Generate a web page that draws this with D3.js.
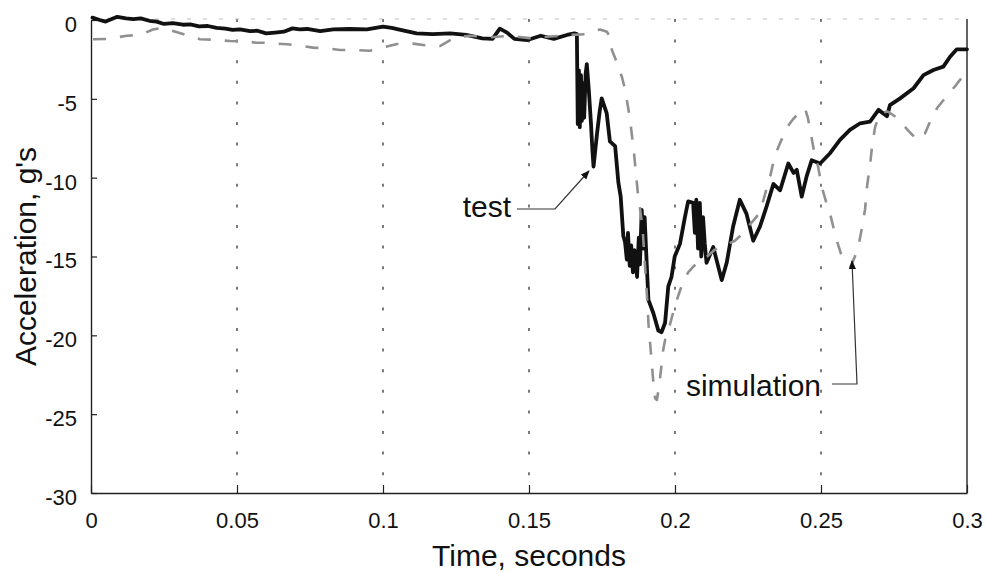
<!DOCTYPE html>
<html>
<head>
<meta charset="utf-8">
<script src="https://cdn.jsdelivr.net/npm/d3@7"></script>
<style>
  html, body { margin: 0; padding: 0; background: #fff; }
  svg { display: block; }
  text { font-family: "Liberation Sans", Arial, Helvetica, sans-serif; fill: #111; }
</style>
</head>
<body>
<svg id="chart" width="986" height="573"></svg>
<script>
// Axis ticks
const timeTicks = [0, 0.05, 0.1, 0.15, 0.2, 0.25, 0.3];
const timeLabels = ["0", "0.05", "0.1", "0.15", "0.2", "0.25", "0.3"];
const accelTicks = [0, -5, -10, -15, -20, -25, -30];
const accelLabels = ["0", "-5", "-10", "-15", "-20", "-25", "-30"];
const gridTimes = [0.05, 0.1, 0.15, 0.2, 0.25];

// Measured crash pulse (seconds, g's)
const testTime = [
  0.0005, 0.003, 0.005, 0.009, 0.012, 0.0145, 0.017, 0.020, 0.0225, 0.025,
  0.028, 0.0315, 0.034, 0.037, 0.040, 0.043, 0.046, 0.0485, 0.051, 0.0545,
  0.057, 0.060, 0.063, 0.066, 0.069, 0.0715, 0.074, 0.0785, 0.083, 0.0885,
  0.0945, 0.100, 0.103, 0.106, 0.1115, 0.117, 0.123, 0.1285, 0.134, 0.1375,
  0.140, 0.1425, 0.145, 0.1495, 0.154, 0.1585, 0.163, 0.1655,
  0.1664, 0.1667, 0.1671, 0.1674, 0.1678, 0.1681, 0.1685, 0.1689, 0.1694, 0.1698,
  0.1705, 0.1712, 0.1717, 0.1721, 0.1733, 0.1742, 0.1749, 0.1766, 0.1777, 0.1795,
  0.1806, 0.1814, 0.1823, 0.1829, 0.1835, 0.1839, 0.1845, 0.1850, 0.1856, 0.1861,
  0.1866, 0.1870, 0.1876, 0.1880, 0.1886, 0.1892, 0.1896, 0.1903, 0.1909, 0.1926,
  0.1943, 0.1954, 0.1966, 0.1977, 0.1988, 0.1999, 0.2017, 0.2034, 0.2045, 0.2062,
  0.2068, 0.2073, 0.2079, 0.2085, 0.2090, 0.2096, 0.2102, 0.2108, 0.2131, 0.2160,
  0.2177, 0.2199, 0.2222, 0.2245, 0.2268, 0.2291, 0.2314, 0.2337, 0.2360, 0.2388,
  0.2406, 0.2417, 0.2434, 0.2451, 0.2468, 0.2497, 0.2531, 0.2565, 0.2599, 0.2634,
  0.2668, 0.2697, 0.2726, 0.2736, 0.2771, 0.2817, 0.2851, 0.2885, 0.2919, 0.2942,
  0.2965, 0.3000
];
const testAccel = [
  0.15, 0.0, -0.1, 0.2, 0.1, 0.05, 0.1, -0.05, -0.1, -0.25,
  -0.2, -0.3, -0.28, -0.4, -0.38, -0.5, -0.55, -0.63, -0.6, -0.7,
  -0.68, -0.85, -0.8, -0.74, -0.53, -0.6, -0.57, -0.7, -0.6, -0.57,
  -0.6, -0.42, -0.5, -0.63, -0.85, -0.9, -0.85, -0.95, -1.16, -1.2,
  -0.55, -0.8, -1.2, -1.27, -1.0, -1.2, -0.95, -0.85,
  -0.9, -6.6, -3.2, -6.8, -3.5, -6.4, -4.0, -6.2, -3.4, -2.8,
  -4.5, -6.5, -8.2, -9.3, -7.2, -5.8, -4.97, -5.9, -7.7, -8.0,
  -10.3, -11.2, -13.7, -14.1, -15.2, -13.5, -15.6, -14.3, -16.0, -14.6,
  -15.0, -16.3, -13.8, -15.5, -12.05, -14.5, -12.5, -15.4, -17.75, -18.6,
  -19.7, -19.8, -19.2, -16.9, -16.3, -15.0, -14.2, -12.5, -11.5, -11.6,
  -13.5, -11.4, -14.5, -11.6, -15.0, -12.5, -14.2, -15.4, -14.4, -16.5,
  -15.4, -13.1, -11.4, -12.3, -14.0, -13.1, -11.8, -10.4, -10.8, -9.1,
  -9.7, -9.5, -11.2, -9.9, -8.9, -9.1, -8.45, -7.6, -6.97, -6.55,
  -6.45, -5.7, -6.1, -5.4, -4.97, -4.33, -3.5, -3.17, -2.96, -2.33,
  -1.86, -1.86
];

// Simulated pulse (seconds, g's)
const simTime = [
  0.0007, 0.0055, 0.0123, 0.0168, 0.0212, 0.0247, 0.0373, 0.0418, 0.0476, 0.0510,
  0.0568, 0.0603, 0.0671, 0.0705, 0.0760, 0.0808, 0.0853, 0.0904, 0.0955, 0.1000,
  0.1048, 0.1103, 0.1144, 0.1195, 0.1247, 0.1298, 0.1366, 0.1435, 0.1503, 0.1572,
  0.1640, 0.1692, 0.1719, 0.1743, 0.1767, 0.1775, 0.1784, 0.1801, 0.1818, 0.1829,
  0.1839, 0.1846, 0.1853, 0.1860, 0.1866, 0.1873, 0.1884, 0.1890, 0.1897, 0.1904,
  0.1910, 0.1918, 0.1925, 0.1932, 0.1938, 0.1945, 0.1952, 0.1959, 0.1969, 0.1983,
  0.1997, 0.2011, 0.2024, 0.2045, 0.2065, 0.2086, 0.2110, 0.2134, 0.2154, 0.2182,
  0.2205, 0.2229, 0.2250, 0.2274, 0.2291, 0.2312, 0.2325, 0.2342, 0.2360, 0.2384,
  0.2404, 0.2428, 0.2445, 0.2455, 0.2466, 0.2476, 0.2490, 0.2503, 0.2517, 0.2534,
  0.2551, 0.2568, 0.2586, 0.2603, 0.2616, 0.2630, 0.2640, 0.2651, 0.2658, 0.2668,
  0.2675, 0.2685, 0.2702, 0.2729, 0.2760, 0.2798, 0.2829, 0.2856, 0.2877, 0.2897,
  0.2932, 0.2959, 0.2976, 0.3000
];
const simAccel = [
  -1.22, -1.2, -1.0, -0.95, -0.6, -0.5, -1.22, -1.25, -1.33, -1.35,
  -1.44, -1.45, -1.54, -1.6, -1.75, -1.8, -1.9, -1.9, -1.95, -1.75,
  -1.52, -1.5, -1.6, -1.65, -1.1, -1.0, -1.1, -1.0, -1.15, -1.05,
  -0.95, -0.9, -0.7, -0.6, -0.75, -1.0, -1.9, -2.7, -3.6, -4.4,
  -5.5, -6.3, -7.4, -8.5, -9.7, -11.0, -12.5, -13.5, -15.5, -17.5,
  -19.5, -21.2, -22.8, -24.0, -24.1, -23.3, -22.2, -21.0, -20.0, -19.3,
  -18.3, -17.5, -16.8, -16.0, -15.6, -15.3, -15.0, -14.6, -14.4, -14.2,
  -14.0, -13.6, -13.1, -12.6, -12.2, -10.8, -10.0, -8.6, -7.8, -6.8,
  -6.3, -5.8, -5.6, -6.2, -7.3, -8.3, -9.3, -10.6, -11.5, -12.5,
  -13.8, -14.8, -15.3, -15.6, -15.0, -14.2, -13.2, -12.0, -10.5, -9.2,
  -8.0, -6.8, -5.9, -5.8, -6.2, -7.0, -7.6, -7.2, -6.3, -5.6,
  -4.8, -4.2, -3.8, -3.3
];

const svg = d3.select("#chart");
const plot = { left: 91, right: 967, top: 20, bottom: 493 };

const x = d3.scaleLinear().domain([0, 0.3]).range([plot.left, plot.right]);
const y = d3.scaleLinear().domain([-30, 0]).range([plot.bottom, plot.top]);

// Vertical dotted grid
svg.append("g")
  .selectAll("line")
  .data(gridTimes)
  .join("line")
  .attr("x1", d => x(d)).attr("x2", d => x(d))
  .attr("y1", plot.top - 1).attr("y2", plot.bottom)
  .attr("stroke", "#333")
  .attr("stroke-width", 1.3)
  .attr("stroke-dasharray", "3,17.6");

// Frame: faint top edge, right edge
svg.append("line")
  .attr("x1", plot.left).attr("x2", plot.right)
  .attr("y1", plot.top - 1).attr("y2", plot.top - 1)
  .attr("stroke", "#bbb").attr("stroke-width", 1)
  .attr("stroke-dasharray", "4,12");
svg.append("line")
  .attr("x1", plot.right).attr("x2", plot.right)
  .attr("y1", plot.top - 1).attr("y2", plot.bottom)
  .attr("stroke", "#222").attr("stroke-width", 1.4);

// Axes
const xAxis = d3.axisBottom(x)
  .tickValues(timeTicks)
  .tickFormat((d, i) => timeLabels[i])
  .tickSize(-8).tickSizeOuter(0).tickPadding(19);
const gx = svg.append("g")
  .attr("transform", `translate(0,${plot.bottom})`)
  .call(xAxis);

const yAxis = d3.axisLeft(y)
  .tickValues(accelTicks)
  .tickFormat((d, i) => accelLabels[i])
  .tickSize(-6).tickSizeOuter(0).tickPadding(14);
const gy = svg.append("g")
  .attr("transform", `translate(${plot.left},0)`)
  .call(yAxis);

[gx, gy].forEach(g => {
  g.select(".domain").attr("stroke", "#222").attr("stroke-width", 1.4);
  g.selectAll(".tick line").attr("stroke", "#222").attr("stroke-width", 1.2);
  g.selectAll(".tick text")
    .attr("font-size", 22)
    .attr("fill", "#111")
    .style("font-family", "'Liberation Sans', Arial, sans-serif");
});
gy.selectAll(".tick text").attr("dy", "0.52em");

// Curves
const line = d3.line()
  .x(d => x(d[0]))
  .y(d => y(d[1]));

const testPts = testTime.map((t, i) => [t, testAccel[i]]);
const simPts = simTime.map((t, i) => [t, simAccel[i]]);

svg.append("path")
  .datum(testPts)
  .attr("d", line)
  .attr("fill", "none")
  .attr("stroke", "#111")
  .attr("stroke-width", 3.8)
  .attr("stroke-linejoin", "round")
  .attr("stroke-linecap", "round");

svg.append("path")
  .datum(simPts)
  .attr("d", line)
  .attr("fill", "none")
  .attr("stroke", "#909090")
  .attr("stroke-width", 2.6)
  .attr("stroke-dasharray", "13,14")
  .attr("stroke-linejoin", "round");

// Axis titles
svg.append("text")
  .attr("x", (plot.left + plot.right) / 2)
  .attr("y", 566)
  .attr("text-anchor", "middle")
  .attr("font-size", 30)
  .text("Time, seconds");

svg.append("text")
  .attr("transform", `translate(36,${(plot.top + plot.bottom) / 2}) rotate(-90)`)
  .attr("text-anchor", "middle")
  .attr("font-size", 30)
  .text("Acceleration, g's");

// Callouts
svg.append("defs").append("marker")
  .attr("id", "arrow")
  .attr("viewBox", "0 0 10 10")
  .attr("refX", 9).attr("refY", 5)
  .attr("markerWidth", 9).attr("markerHeight", 9)
  .attr("markerUnits", "userSpaceOnUse")
  .attr("orient", "auto")
  .append("path")
  .attr("d", "M0,1 L10,5 L0,9 Z")
  .attr("fill", "#111");

svg.append("text")
  .attr("x", 511).attr("y", 217)
  .attr("text-anchor", "end")
  .attr("font-size", 30)
  .text("test");
svg.append("polyline")
  .attr("points", "517,209 555,209 589,171")
  .attr("fill", "none")
  .attr("stroke", "#333").attr("stroke-width", 1.2)
  .attr("marker-end", "url(#arrow)");

svg.append("text")
  .attr("x", 821).attr("y", 396)
  .attr("text-anchor", "end")
  .attr("font-size", 30)
  .text("simulation");
svg.append("polyline")
  .attr("points", "832,384 857,384 852,261")
  .attr("fill", "none")
  .attr("stroke", "#333").attr("stroke-width", 1.2)
  .attr("marker-end", "url(#arrow)");
</script>
</body>
</html>
